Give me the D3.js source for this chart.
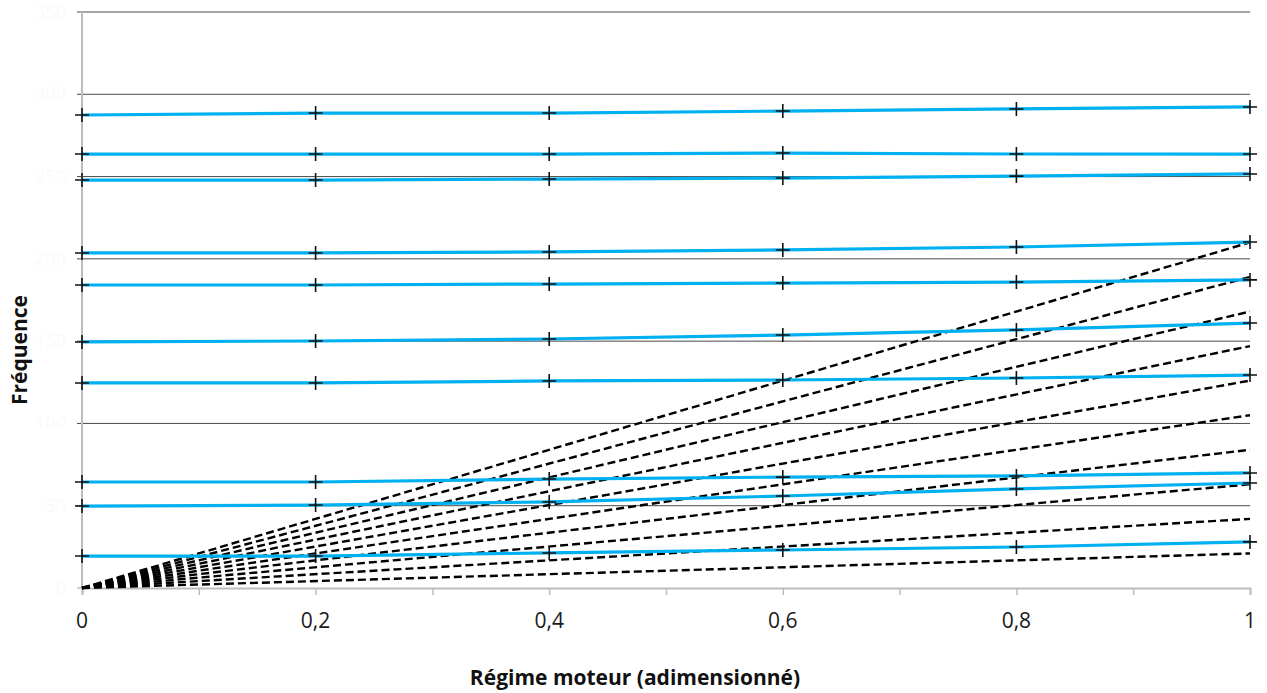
<!DOCTYPE html>
<html><head><meta charset="utf-8">
<script src="https://cdn.jsdelivr.net/npm/d3@7"></script>
<style>body{margin:0;background:#fff;}svg{display:block;}</style>
</head><body>
<svg id="c" width="1267" height="693"></svg>
<script>
const xValues = [0, 0.2, 0.4, 0.6, 0.8, 1];
const mode1 = [287.4, 288.6, 288.6, 289.8, 291.1, 292.3];
const mode2 = [263.7, 263.7, 263.7, 264.3, 263.7, 263.7];
const mode3 = [247.9, 247.9, 248.5, 249.1, 250.3, 251.6];
const mode4 = [203.6, 203.6, 204.2, 205.4, 207.2, 210.2];
const mode5 = [184.1, 184.1, 184.7, 185.3, 185.9, 187.2];
const mode6 = [149.5, 150.1, 151.3, 153.7, 156.8, 161.0];
const mode7 = [124.6, 124.6, 125.8, 126.4, 127.6, 129.4];
const mode8 = [64.4, 64.4, 66.2, 67.4, 68.1, 69.9];
const mode9 = [49.8, 50.4, 52.3, 55.9, 60.2, 63.8];
const mode10 = [19.4, 19.4, 21.3, 23.1, 24.9, 28.0];
const modes = [mode1, mode2, mode3, mode4, mode5, mode6, mode7, mode8, mode9, mode10];
// engine orders: frequency at full regime for each harmonic line
const orderFullRegime = [21, 42, 63, 84, 105, 126, 147, 168, 189, 210];
const yTicks = [0, 50, 100, 150, 200, 250, 300, 350];
const xTicks = [0, 0.2, 0.4, 0.6, 0.8, 1];
const xTickLabels = ["0", "0,2", "0,4", "0,6", "0,8", "1"];
const xMinorTicks = [0, 0.1, 0.2, 0.3, 0.4, 0.5, 0.6, 0.7, 0.8, 0.9, 1];
const xTitle = "Régime moteur (adimensionné)";
const yTitle = "Fréquence";

(function () {
const svg = d3.select("#c");
const pLeft = 82, pRight = 1250, pTop = 12, pBottom = 588;
const x = d3.scaleLinear().domain([0, 1]).range([pLeft, pRight]);
const y = d3.scaleLinear().domain([0, 350]).range([pBottom, pTop]);
const font = "'Open Sans', 'Liberation Sans', sans-serif";

// gridlines
svg.append("g").selectAll("line").data(yTicks.filter(d => d > 0)).join("line")
  .attr("x1", pLeft - 5).attr("x2", pRight).attr("y1", d => y(d)).attr("y2", d => y(d))
  .attr("stroke", "#4a4a4a").attr("stroke-width", 1);
// faint y tick labels (nearly invisible in the original)
svg.append("g").selectAll("text").data(yTicks).join("text")
  .attr("x", 66).attr("y", d => y(d) + 6).attr("text-anchor", "end")
  .attr("font-family", font).attr("font-size", 18).attr("fill", "#fafafa")
  .text(d => d);
// y axis line
svg.append("line").attr("x1", pLeft).attr("x2", pLeft).attr("y1", pTop).attr("y2", pBottom)
  .attr("stroke", "#bdbdbd").attr("stroke-width", 2);
// x axis
const xAxis = d3.axisBottom(x).tickValues(xMinorTicks).tickSize(7).tickFormat("");
const gx = svg.append("g").attr("transform", `translate(0,${pBottom})`).call(xAxis);
gx.select(".domain").attr("stroke", "#bdbdbd").attr("stroke-width", 2);
gx.selectAll(".tick line").attr("stroke", "#bdbdbd").attr("stroke-width", 1.5);
svg.append("line").attr("x1", pLeft - 5).attr("x2", pLeft).attr("y1", pBottom).attr("y2", pBottom).attr("stroke", "#bdbdbd").attr("stroke-width", 1.5);
svg.append("g").selectAll("text").data(xTicks).join("text")
  .attr("x", d => x(d)).attr("y", 628).attr("text-anchor", "middle")
  .attr("font-family", font).attr("font-size", 21).attr("fill", "#1a1a1a")
  .text((d, i) => xTickLabels[i]);

// dashed engine order lines
svg.append("g").selectAll("line").data(orderFullRegime).join("line")
  .attr("x1", x(0)).attr("y1", y(0)).attr("x2", x(1)).attr("y2", d => y(d))
  .attr("stroke", "#000").attr("stroke-width", 2.4).attr("stroke-dasharray", "8,4");

// blue mode lines
const line = d3.line().x((d, i) => x(xValues[i])).y(d => y(d));
svg.append("g").selectAll("path").data(modes).join("path")
  .attr("d", line).attr("fill", "none").attr("stroke", "#00b0f0").attr("stroke-width", 3.2);
// crosses
const pts = [];
modes.forEach(m => m.forEach((v, i) => pts.push([xValues[i], v])));
svg.append("g").selectAll("path").data(pts).join("path")
  .attr("d", d => { const cx = x(d[0]), cy = y(d[1]); return `M${cx-7},${cy}H${cx+7}M${cx},${cy-7}V${cy+7}`; })
  .attr("stroke", "#111").attr("stroke-width", 1.6).attr("fill", "none");

// titles
svg.append("text").attr("x", 635).attr("y", 685).attr("text-anchor", "middle")
  .attr("font-family", font).attr("font-size", 21).attr("font-weight", "bold").attr("fill", "#111")
  .text(xTitle);
svg.append("text").attr("transform", "translate(27,350) rotate(-90)").attr("text-anchor", "middle")
  .attr("font-family", font).attr("font-size", 21).attr("font-weight", "bold").attr("fill", "#111")
  .text(yTitle);
})();
</script>
</body></html>
